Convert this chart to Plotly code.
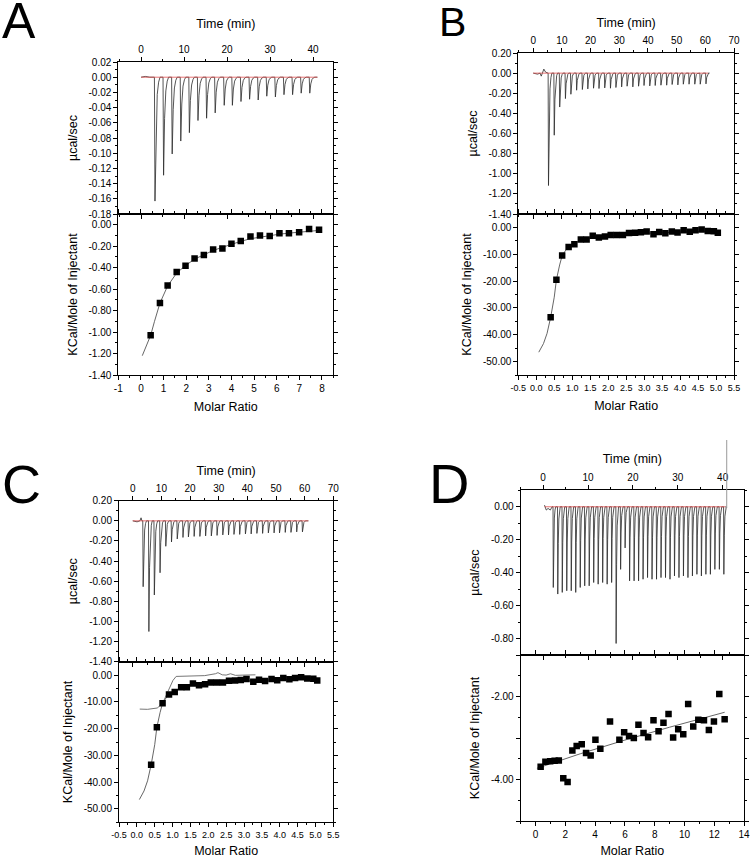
import plotly.graph_objects as go

W, H = 750, 858
FONT = "Liberation Sans, Arial, sans-serif"

# ---------------- Panel A ----------------
a_inj_time = [3.1, 5.1, 7.1, 9.1, 11.1, 13.1, 15.1, 17.1, 19.2, 21.1, 23.1, 25.1, 27.1, 29.1, 31.1, 33.1, 35.1, 37.1, 39.1]
a_inj_peak = [-0.163, -0.129, -0.101, -0.084, -0.073, -0.057, -0.054, -0.047, -0.037, -0.037,
              -0.032, -0.029, -0.030, -0.025, -0.026, -0.023, -0.023, -0.021, -0.021]
a_pre_t = [0.0, 1.0, 2.0, 2.8]
a_pre_y = [0.0, 0.001, 0.0, 0.0]
a_time_end = 41.0
a_ratio = [0.43, 0.84, 1.18, 1.58, 1.97, 2.37, 2.78, 3.19, 3.60, 4.00, 4.41, 4.84, 5.26, 5.69, 6.12, 6.54, 6.99, 7.43, 7.87]
a_heat = [-1.03, -0.73, -0.567, -0.44, -0.383, -0.314, -0.283, -0.23, -0.221, -0.177, -0.152,
          -0.109, -0.10, -0.105, -0.08, -0.08, -0.07, -0.04, -0.047]
a_fit_x = [0.06, 0.2, 0.43, 0.6, 0.84, 1.18, 1.58, 1.97, 2.37, 2.78, 3.19, 3.6, 4.0, 4.41, 4.84, 5.26, 5.69, 6.12, 6.54, 6.99, 7.43, 7.87]
a_fit_y = [-1.22, -1.15, -1.03, -0.90, -0.73, -0.57, -0.45, -0.38, -0.32, -0.28, -0.24, -0.21, -0.18,
           -0.155, -0.13, -0.115, -0.10, -0.088, -0.078, -0.068, -0.06, -0.053]

# ---------------- Panel B ----------------
b_inj_time = [5.2, 7.2, 9.1, 11.1, 13.0, 15.0, 17.0, 18.9, 20.9, 22.8, 24.8, 26.8, 28.7, 30.7, 32.6,
              34.6, 36.6, 38.5, 40.5, 42.4, 44.4, 46.4, 48.3, 50.3, 52.2, 54.2, 56.2, 58.1, 60.1]
b_inj_peak = [-1.117, -0.617, -0.337, -0.253, -0.21, -0.17, -0.163, -0.157, -0.15, -0.153, -0.147, -0.15,
              -0.143, -0.137, -0.13, -0.137, -0.13, -0.123, -0.127, -0.123, -0.12, -0.12, -0.113, -0.117,
              -0.11, -0.11, -0.11, -0.11, -0.107]
b_pre_t = [0.0, 1.5, 2.4, 2.8, 3.2, 3.7, 4.3, 5.0]
b_pre_y = [0.0, -0.01, 0.0, -0.03, 0.0, 0.04, 0.01, 0.0]
b_time_end = 61.0
b_ratio = [0.40, 0.56, 0.72, 0.90, 1.06, 1.24, 1.40, 1.57, 1.74, 1.91, 2.07, 2.24, 2.41, 2.58, 2.75,
           2.91, 3.07, 3.26, 3.42, 3.59, 3.77, 3.93, 4.10, 4.27, 4.43, 4.60, 4.77, 4.94, 5.05]
b_heat = [-33.5, -19.5, -10.5, -7.3, -6.3, -4.5, -4.5, -3.1, -3.8, -3.4, -2.8, -2.8, -2.8, -2.1, -2.0,
          -1.8, -1.5, -2.5, -1.7, -2.2, -1.5, -1.9, -1.1, -1.6, -1.1, -0.8, -1.3, -1.4, -2.0]
b_fit_x = [0.07, 0.2, 0.3, 0.4, 0.5, 0.56, 0.65, 0.72, 0.82, 0.9, 1.06, 1.24, 1.4, 1.57, 1.91, 2.41,
           3.0, 3.5, 4.0, 4.5, 5.05]
b_fit_y = [-46.5, -43.3, -39.5, -33.5, -26.0, -19.5, -14.0, -10.5, -8.5, -7.3, -5.8, -4.8, -4.2, -3.7,
           -3.2, -2.7, -2.2, -1.9, -1.7, -1.5, -1.4]

# ---------------- Panel C ----------------
c_inj_time = [3.5, 5.5, 7.4, 9.4, 11.4, 13.4, 15.4, 17.4, 19.3, 21.3, 23.3, 25.3, 27.3, 29.3, 31.3,
              33.3, 35.2, 37.2, 39.2, 41.2, 43.2, 45.2, 47.2, 49.2, 51.1, 53.1, 55.1, 57.1, 59.1]
c_inj_peak = [-0.655, -1.10, -0.737, -0.516, -0.253, -0.21, -0.18, -0.165, -0.16, -0.155, -0.155, -0.15,
              -0.15, -0.145, -0.14, -0.14, -0.135, -0.135, -0.13, -0.13, -0.125, -0.125, -0.12, -0.12,
              -0.12, -0.115, -0.115, -0.11, -0.11]
c_pre_t = [0.0, 1.5, 2.5, 2.9, 3.2]
c_pre_y = [0.0, -0.01, 0.0, 0.03, 0.0]
c_time_end = 61.3
c_ratio = b_ratio
c_heat = b_heat
c_fit1_x = b_fit_x
c_fit1_y = b_fit_y
c_fit2_x = [0.08, 0.3, 0.57, 0.66, 0.76, 0.90, 1.01, 1.10, 1.40, 1.64, 1.90, 2.20, 2.27, 2.39, 2.50,
            2.62, 2.76, 3.00, 3.32]
c_fit2_y = [-12.7, -12.8, -12.3, -11.3, -9.4, -5.1, -2.0, -0.5, -0.3, -0.1, -0.2, 0.5, 0.9, 0.1, 0.0,
            0.5, -0.1, 0.0, 0.1]

# ---------------- Panel D ----------------
d_inj_time = [2.2, 3.2, 4.2, 5.2, 6.2, 7.2, 8.2, 9.2, 10.2, 11.2, 12.2, 13.2, 14.2, 15.2, 16.2, 17.2,
              18.2, 19.2, 20.2, 21.2, 22.2, 23.2, 24.2, 25.2, 26.2, 27.2, 28.2, 29.2, 30.2, 31.2, 32.2,
              33.2, 34.2, 35.2, 36.2, 37.2, 38.2, 39.2, 40.2]
d_inj_peak = [-0.49, -0.53, -0.52, -0.51, -0.51, -0.52, -0.49, -0.48, -0.48, -0.46, -0.47, -0.46, -0.47,
              -0.46, -0.83, -0.38, -0.25, -0.45, -0.45, -0.45, -0.44, -0.43, -0.44, -0.44, -0.43, -0.43,
              -0.44, -0.42, -0.43, -0.42, -0.43, -0.42, -0.41, -0.42, -0.41, -0.41, -0.38, -0.38, -0.41]
d_pre_t = [0.3, 0.7, 1.1, 1.6, 2.0]
d_pre_y = [0.01, -0.02, -0.01, -0.02, 0.0]
d_time_end = 40.6
d_spike_time = 40.9
d_ratio = [0.34, 0.66, 0.98, 1.28, 1.56, 1.86, 2.15, 2.47, 2.76, 3.10, 3.39, 3.70, 4.02, 4.35, 5.00,
           5.63, 5.95, 6.28, 6.60, 6.91, 7.25, 7.56, 7.92, 8.26, 8.59, 8.93, 9.24, 9.58, 9.92, 10.25,
           10.59, 10.93, 11.31, 11.64, 11.98, 12.34, 12.70]
d_heat = [-3.69, -3.57, -3.56, -3.55, -3.54, -3.97, -4.06, -3.30, -3.19, -3.15, -3.36, -3.42, -3.04,
          -3.26, -2.60, -3.04, -2.86, -2.95, -3.00, -2.68, -2.88, -2.98, -2.57, -2.84, -2.63, -2.42,
          -2.99, -2.79, -2.91, -2.18, -2.72, -2.56, -2.57, -2.81, -2.60, -1.94, -2.55]
d_fit_x = [0.09, 3.0, 6.0, 9.0, 12.7]
d_fit_y = [-3.73, -3.38, -3.05, -2.74, -2.38]

# peak outline (fraction of recovery width, fraction of peak depth)
PEAK_SHAPE = [(0.0, 0.0), (0.1, 1.0), (0.28, 0.42), (0.5, 0.14), (0.75, 0.04), (1.0, 0.0)]


def thermogram(pre_t, pre_y, inj_t, inj_d, t_end, w):
    xs, ys = list(pre_t), list(pre_y)
    for t, d in zip(inj_t, inj_d):
        for f, g in PEAK_SHAPE:
            xs.append(t + f * w)
            ys.append(g * d)
    xs.append(t_end)
    ys.append(0.0)
    return xs, ys


def xd(p0, p1):
    return [p0 / W, p1 / W]


def yd(top, bot):
    return [1 - bot / H, 1 - top / H]


def ticks(vals, fmt):
    return dict(tickmode="array", tickvals=vals, ticktext=[fmt.format(v) for v in vals])


BASE = dict(showline=True, linecolor="black", linewidth=1, mirror="ticks", ticks="outside",
            ticklen=4, tickwidth=1, tickcolor="black", showgrid=False, zeroline=False,
            automargin=False, tickangle=0)


def ax(domain, rng, anchor, tickspec, minor_dtick, title=None, side=None, standoff=None, fsize=10):
    d = dict(BASE)
    d.update(domain=domain, range=rng, anchor=anchor, **tickspec)
    d["tickfont"] = dict(family=FONT, size=fsize, color="black")
    d["minor"] = dict(ticks="outside", ticklen=2, tickcolor="black", dtick=minor_dtick, showgrid=False)
    if side:
        d["side"] = side
    if title:
        t = dict(text=title, font=dict(family=FONT, size=12.5, color="black"))
        if standoff is not None:
            t["standoff"] = standoff
        d["title"] = t
    return d


fig = go.Figure()
LINE = "#2a2a2a"
RED = "#e05050"
FIT = "#555555"


def add_thermo(pre_t, pre_y, it, idp, tend, w, xa, ya):
    xs, ys = thermogram(pre_t, pre_y, it, idp, tend, w)
    fig.add_trace(go.Scatter(x=xs, y=ys, mode="lines", line=dict(color=LINE, width=0.8),
                             xaxis=xa, yaxis=ya, showlegend=False))
    fig.add_trace(go.Scatter(x=[pre_t[0], tend], y=[0, 0], mode="lines",
                             line=dict(color=RED, width=1), opacity=0.8,
                             xaxis=xa, yaxis=ya, showlegend=False))


def add_iso(rx, hy, fits, xa, ya):
    for fx, fy, col in fits:
        fig.add_trace(go.Scatter(x=fx, y=fy, mode="lines", line=dict(color=col, width=0.9),
                                 xaxis=xa, yaxis=ya, showlegend=False))
    fig.add_trace(go.Scatter(x=rx, y=hy, mode="markers",
                             marker=dict(symbol="square", size=6.5, color="black"),
                             xaxis=xa, yaxis=ya, showlegend=False))


add_thermo(a_pre_t, a_pre_y, a_inj_time, a_inj_peak, a_time_end, 1.3, "x", "y")
add_iso(a_ratio, a_heat, [(a_fit_x, a_fit_y, FIT)], "x2", "y2")
add_thermo(b_pre_t, b_pre_y, b_inj_time, b_inj_peak, b_time_end, 1.3, "x3", "y3")
add_iso(b_ratio, b_heat, [(b_fit_x, b_fit_y, FIT)], "x4", "y4")
add_thermo(c_pre_t, c_pre_y, c_inj_time, c_inj_peak, c_time_end, 1.3, "x5", "y5")
add_iso(c_ratio, c_heat, [(c_fit2_x, c_fit2_y, "#666666"), (c_fit1_x, c_fit1_y, FIT)], "x6", "y6")
add_thermo(d_pre_t, d_pre_y, d_inj_time, d_inj_peak, d_time_end, 0.6, "x7", "y7")
add_iso(d_ratio, d_heat, [(d_fit_x, d_fit_y, FIT)], "x8", "y8")

f2 = "{:.2f}"
f0 = "{:.0f}"
f1 = "{:.1f}"
time70 = [0, 10, 20, 30, 40, 50, 60, 70]
time40 = [0, 10, 20, 30, 40]
r05 = [-0.5, 0.0, 0.5, 1.0, 1.5, 2.0, 2.5, 3.0, 3.5, 4.0, 4.5, 5.0, 5.5]
kc = [0, -10, -20, -30, -40, -50]
uc14 = [0.2, 0.0, -0.2, -0.4, -0.6, -0.8, -1.0, -1.2, -1.4]

# panel pixel frames
A_X = xd(118.3, 333.3)
B_X = xd(518.3, 734.0)
C_X = xd(119.0, 333.3)
D_X = xd(520.7, 744.0)

layout = dict(
    width=W, height=H, margin=dict(l=0, r=0, t=0, b=0, autoexpand=False),
    paper_bgcolor="white", plot_bgcolor="white", showlegend=False,
    font=dict(family=FONT, color="black"),
    # A
    xaxis=ax(A_X, [-5.3, 44.7], "y", ticks(time40, f0), 5, "Time (min)", "top", 12),
    yaxis=ax(yd(62, 214), [-0.18, 0.02], "x",
             ticks([0.02, 0.0, -0.02, -0.04, -0.06, -0.08, -0.10, -0.12, -0.14, -0.16, -0.18], f2), 0.01,
             "µcal/sec", None, 8),
    xaxis2=ax(A_X, [-1, 8.5], "y2", ticks(list(range(-1, 9)), f0), 0.5, "Molar Ratio", None, 9),
    yaxis2=ax(yd(214, 375), [-1.4, 0.1], "x2",
              ticks([0.0, -0.2, -0.4, -0.6, -0.8, -1.0, -1.2, -1.4], f2), 0.1,
              "KCal/Mole of Injectant", None, 8),
    # B
    xaxis3=ax(B_X, [-5.2, 70], "y3", ticks(time70, f0), 5, "Time (min)", "top", 4),
    yaxis3=ax(yd(53, 214), [-1.4, 0.2], "x3", ticks(uc14, f2), 0.1, "µcal/sec", None, 8),
    xaxis4=ax(B_X, [-0.5, 5.5], "y4", ticks(r05, f1), 0.25, "Molar Ratio", None, 9, fsize=9),
    yaxis4=ax(yd(214, 375), [-55, 5], "x4", ticks(kc, f2), 5, "KCal/Mole of Injectant", None, 8),
    # C
    xaxis5=ax(C_X, [-4.8, 70], "y5", ticks(time70, f0), 5, "Time (min)", "top", 4),
    yaxis5=ax(yd(500.7, 661.7), [-1.4, 0.2], "x5", ticks(uc14, f2), 0.1, "µcal/sec", None, 8),
    xaxis6=ax(C_X, [-0.5, 5.5], "y6", ticks(r05, f1), 0.25, "Molar Ratio", None, 9, fsize=9),
    yaxis6=ax(yd(661.7, 822.3), [-55, 5], "x6", ticks(kc, f2), 5, "KCal/Mole of Injectant", None, 8),
    # D
    xaxis7=ax(D_X, [-5.0, 44.75], "y7", ticks(time40, f0), 5, "Time (min)", "top", 5),
    yaxis7=ax(yd(490.3, 655), [-0.9, 0.1], "x7", ticks([0.0, -0.2, -0.4, -0.6, -0.8], f2), 0.1,
              "µcal/sec", None, 8),
    xaxis8=ax(D_X, [-1, 14], "y8", ticks([0, 2, 4, 6, 8, 10, 12, 14], f0), 1, "Molar Ratio", None, 9),
    yaxis8=ax(yd(655, 821), [-5, -1], "x8",
              dict(tickmode="array", tickvals=[-5, -4, -3, -2, -1],
                   ticktext=["", f2.format(-4), "", f2.format(-2), ""]), 0.5,
              "KCal/Mole of Injectant", None, 8),
)
fig.update_layout(**layout)

# stray vertical trace in panel D (extends above frame)
fig.add_shape(type="line", xref="x7", yref="paper", x0=d_spike_time, x1=d_spike_time,
              y0=1 - 508 / H, y1=1 - 440 / H, line=dict(color="#999999", width=1))

# panel letters
for txt, cx, cy, sz in [("A", 19, 21, 50), ("B", 452, 22, 41), ("C", 21, 484, 54), ("D", 449, 483, 56)]:
    fig.add_annotation(text=txt, x=cx / W, y=1 - cy / H, xref="paper", yref="paper",
                       xanchor="center", yanchor="middle", showarrow=False,
                       font=dict(family=FONT, size=sz, color="black"))

fig.write_html("out.html", config={"displayModeBar": False},
               post_script="document.body.style.margin='0px';document.body.style.overflow='hidden';")
